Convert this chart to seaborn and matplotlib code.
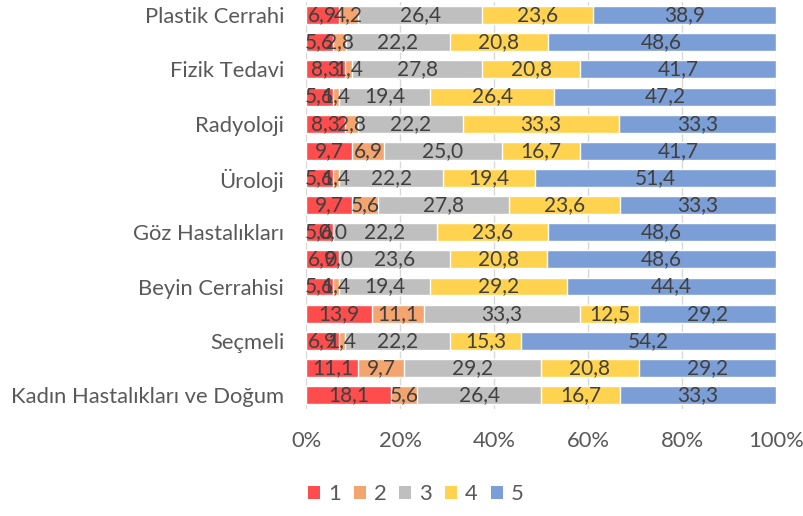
import numpy as np
import pandas as pd
import matplotlib
matplotlib.use("Agg")
import matplotlib.pyplot as plt
from matplotlib.patches import Patch
import seaborn as sns

categories = ["Plastik Cerrahi", "", "Fizik Tedavi", "", "Radyoloji", "", "Üroloji", "",
              "Göz Hastalıkları", "", "Beyin Cerrahisi", "", "Seçmeli", "",
              "Kadın Hastalıkları ve Doğum"]
s1 = [6.9, 5.6, 8.3, 5.6, 8.3, 9.7, 5.6, 9.7, 5.6, 6.9, 5.6, 13.9, 6.9, 11.1, 18.1]
s2 = [4.2, 2.8, 1.4, 1.4, 2.8, 6.9, 1.4, 5.6, 0.0, 0.0, 1.4, 11.1, 1.4, 9.7, 5.6]
s3 = [26.4, 22.2, 27.8, 19.4, 22.2, 25.0, 22.2, 27.8, 22.2, 23.6, 19.4, 33.3, 22.2, 29.2, 26.4]
s4 = [23.6, 20.8, 20.8, 26.4, 33.3, 16.7, 19.4, 23.6, 23.6, 20.8, 29.2, 12.5, 15.3, 20.8, 16.7]
s5 = [38.9, 48.6, 41.7, 47.2, 33.3, 41.7, 51.4, 33.3, 48.6, 48.6, 44.4, 29.2, 54.2, 29.2, 33.3]
series_names = ["1", "2", "3", "4", "5"]
colors = ["#FF4D4D", "#F4A46E", "#BFBFBF", "#FFD34F", "#7B9ED6"]
xticks = [0, 20, 40, 60, 80, 100]

series = [s1, s2, s3, s4, s5]
vals = np.array(series)
rows = [f"r{i:02d}" for i in range(len(categories))]
cum = np.cumsum(vals, axis=0)
scale = 100.0 / cum[-1]  # normalise to 100%
cum = cum * scale
lefts = np.vstack([np.zeros(len(rows)), cum[:-1]])

sns.set_style("white")
plt.rcParams["font.family"] = ["Lato", "DejaVu Sans"]

fig = plt.figure(figsize=(8.04, 5.16), dpi=100)
ax = fig.add_axes([0.381, 0.208, 0.584, 0.789])

for k in range(len(series) - 1, -1, -1):
    df = pd.DataFrame({"row": rows, "cum": cum[k]})
    sns.barplot(data=df, x="cum", y="row", order=rows, orient="h", color=colors[k],
                saturation=1, width=0.66, ax=ax, zorder=2)

for k in range(len(series)):
    for i in range(len(rows)):
        v = vals[k][i]
        x = lefts[k][i] + (cum[k][i] - lefts[k][i]) / 2
        ax.text(x, i, f"{v:.1f}".replace(".", ","), ha="center", va="center",
                fontsize=15, color="#404040", zorder=3)

ax.set_xlim(0, 100)
ax.set_xticks(xticks)
ax.set_xticklabels([f"{t}%" for t in xticks])
ax.set_yticks(range(len(rows)))
ax.set_yticklabels(categories)
ax.set_xlabel("")
ax.set_ylabel("")
ax.tick_params(axis="both", length=0, labelsize=15.8, labelcolor="#595959")
ax.tick_params(axis="x", pad=16)
ax.tick_params(axis="y", pad=16)
ax.grid(axis="x", color="#D9D9D9", linewidth=1, zorder=0)
ax.set_axisbelow(True)
for sp in ax.spines.values():
    sp.set_visible(False)

handles = [Patch(facecolor=c, edgecolor="none") for c in colors]
fig.legend(handles, series_names, loc="center", bbox_to_anchor=(0.517, 0.042), ncol=5,
           frameon=False, fontsize=15.8, handlelength=0.55, handleheight=0.55,
           handletextpad=0.35, columnspacing=0.6, labelcolor="#595959")

fig.savefig("out.png", dpi=100)
